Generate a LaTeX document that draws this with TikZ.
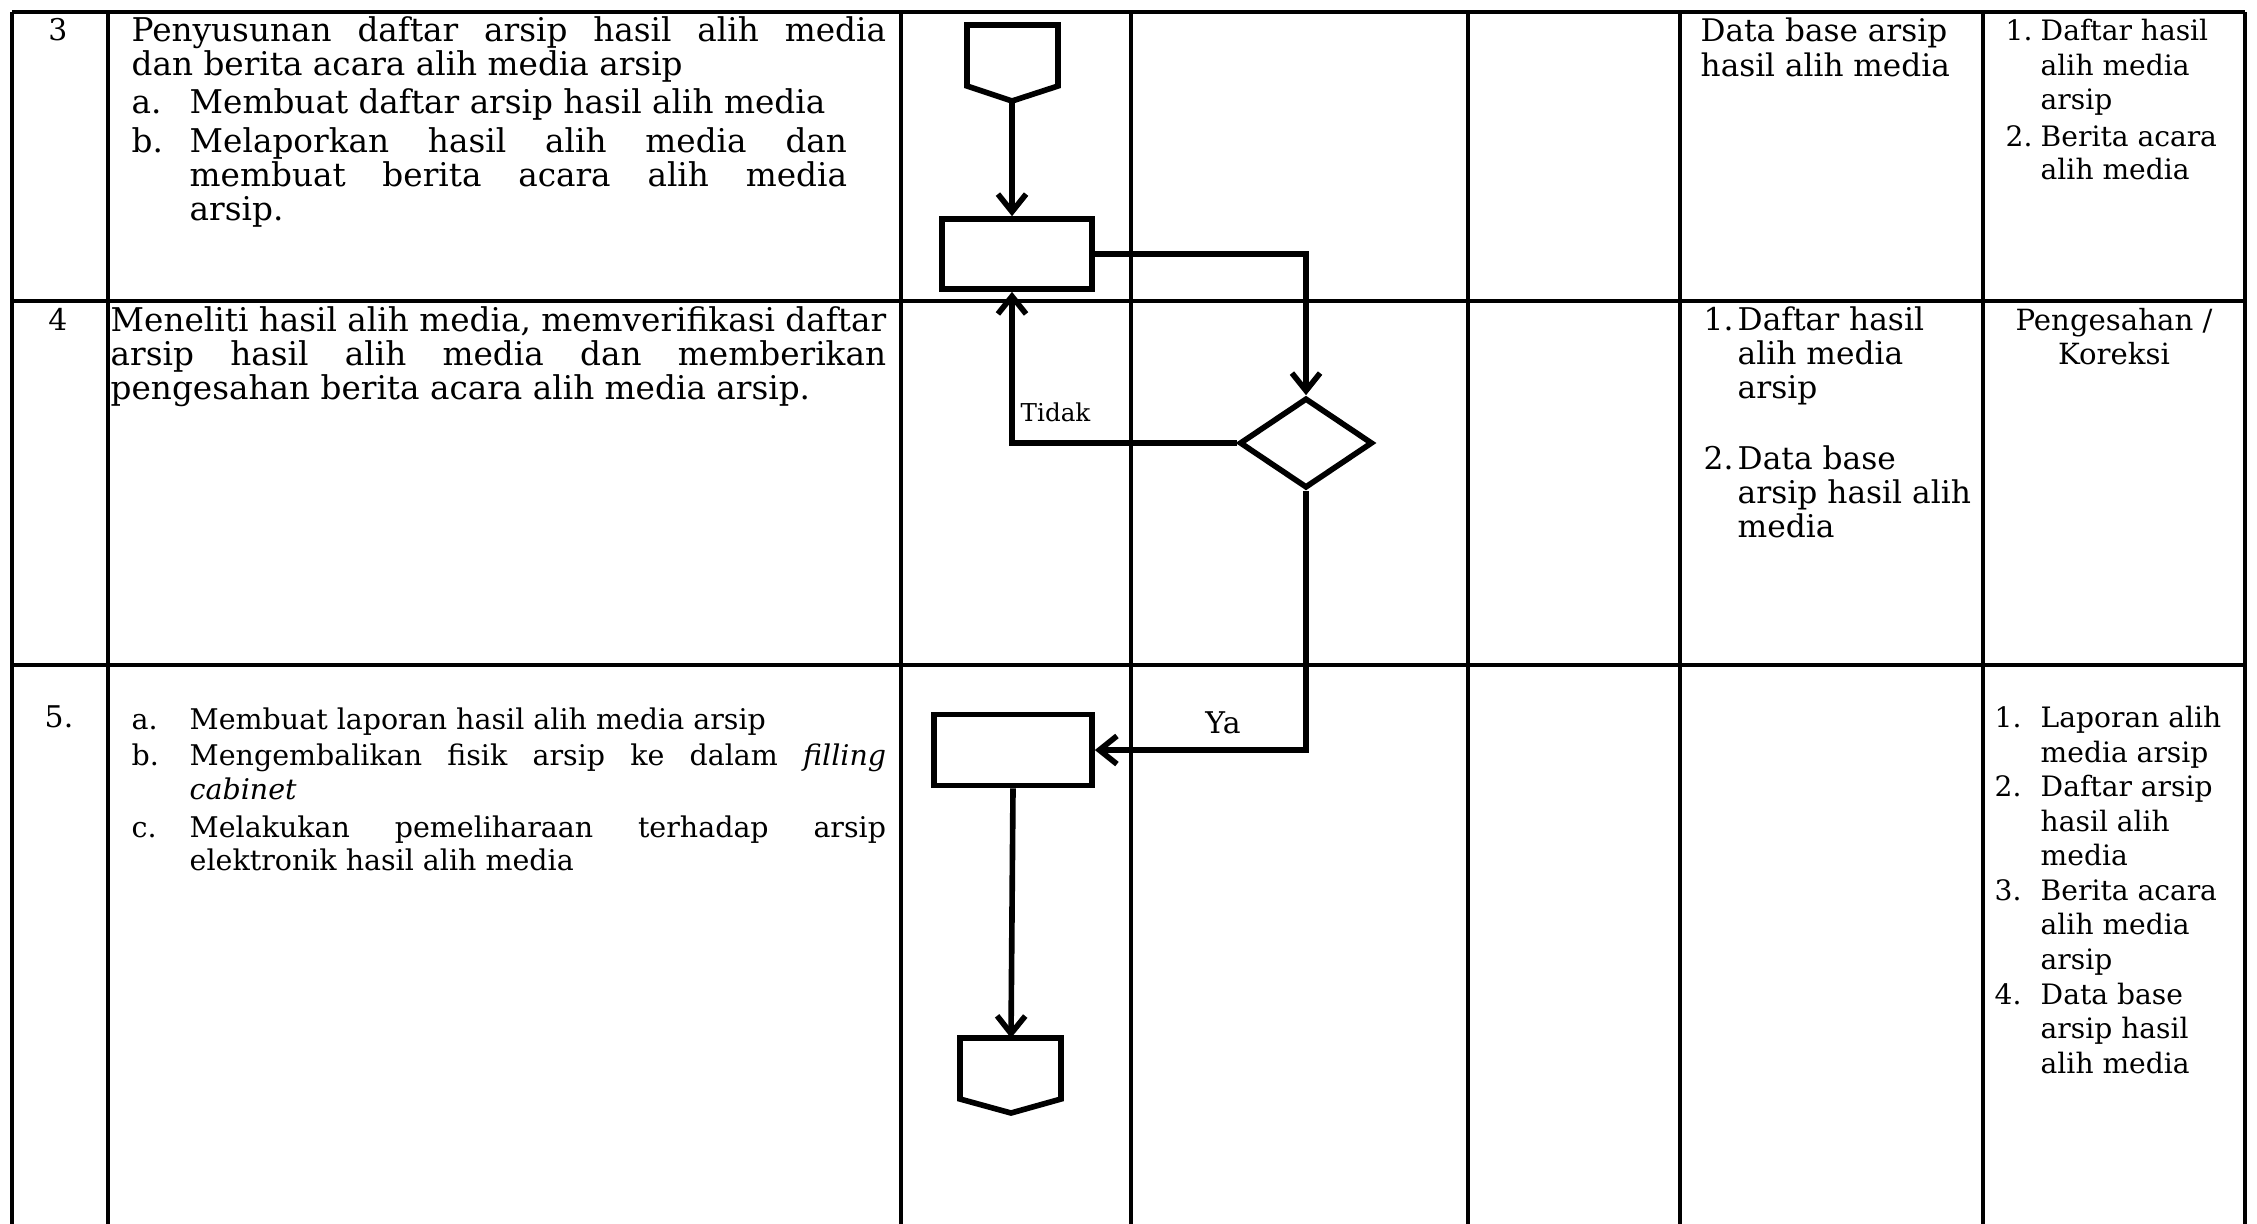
\documentclass[tikz,border=0pt]{standalone}
\usepackage{fontspec}
\setmainfont{DejaVu Serif}
\usetikzlibrary{arrows.meta,shapes.geometric}
\newcommand\J[2]{\makebox[#1][s]{#2}}
\tikzset{
  gridline/.style={line width=0.9pt},
  flow/.style={line width=1.6pt},
  box/.style={draw, rectangle, line width=1.6pt, inner sep=0pt, fill=white},
  dec/.style={draw, diamond, line width=1.6pt, inner sep=0pt, fill=white},
  arr/.style={flow, -{Straight Barb[length=5pt,width=8pt]}},
  txt/.style={anchor=base west, inner sep=0pt, font=\fontsize{#1}{#1}\selectfont},
  txt/.default=8.5,
  ctxt/.style={txt=#1, anchor=base},
  ctxt/.default=8.5,
  small/.style={anchor=base west, inner sep=0pt, font=\fontsize{7}{8}\selectfont},
}
\begin{document}
\begin{tikzpicture}[x=0.01cm,y=-0.01cm]
\useasboundingbox (0,0) rectangle (2257,1223);
\fill[white] (0,0) rectangle (2257,1223);
% table grid
\draw[gridline] (12,12) -- (2245,12);
\draw[gridline] (12,301) -- (2245,301);
\draw[gridline] (12,665) -- (2245,665);
\foreach \gx in {12,108,901,1131,1468,1680,1983,2245}
  \draw[gridline] (\gx,12) -- (\gx,1230);

% row numbers
\node[ctxt] (n3) at (58,40) {3};
\node[ctxt] (n4) at (58,330) {4};
\node[ctxt] (n5) at (59,727) {5.};

% row 3, column 1
\node[txt=9.3] (r3l1) at (131,41) {\J{7.54cm}{Penyusunan daftar arsip hasil alih media}};
\node[txt=9.3] (r3l2) at (131,75) {dan berita acara alih media arsip};
\node[txt=9.3] (r3a) at (131,113) {a.};
\node[txt=9.3] (r3l3) at (189,113) {Membuat daftar arsip hasil alih media};
\node[txt=9.3] (r3b) at (131,152) {b.};
\node[txt=9.3] (r3l4) at (189,152) {\J{6.57cm}{Melaporkan hasil alih media dan}};
\node[txt=9.3] (r3l5) at (189,186) {\J{6.57cm}{membuat berita acara alih media}};
\node[txt=9.3] (r3l6) at (189,220) {arsip.};

% row 4, column 1
\node[txt=9.3] (r4l1) at (110,331) {\J{7.75cm}{Meneliti hasil alih media, memverifikasi daftar}};
\node[txt=9.3] (r4l2) at (110,365) {\J{7.75cm}{arsip hasil alih media dan memberikan}};
\node[txt=9.3] (r4l3) at (110,399) {pengesahan berita acara alih media arsip.};

% row 5, column 1
\node[txt=8.1] (r5a) at (131,729) {a.};
\node[txt=8.1] (r5l1) at (189,729) {Membuat laporan hasil alih media arsip};
\node[txt=8.1] (r5b) at (131,765) {b.};
\node[txt=8.1] (r5l2) at (189,765) {\J{6.96cm}{Mengembalikan fisik arsip ke dalam \textit{filling}}};
\node[txt=8.1] (r5l3) at (189,799) {\textit{cabinet}};
\node[txt=8.1] (r5c) at (131,837) {c.};
\node[txt=8.1] (r5l4) at (189,837) {\J{6.96cm}{Melakukan pemeliharaan terhadap arsip}};
\node[txt=8.1] (r5l5) at (189,870) {elektronik hasil alih media};

% row 3, columns 5 and 6
\node[txt=8.85] (r3d1) at (1700,41) {Data base arsip};
\node[txt=8.85] (r3d2) at (1700,76) {hasil alih media};
\node[txt=8] (r3o1n) at (2005,40) {1.};
\node[txt=8] (r3o1) at (2040,40) {Daftar hasil};
\node[txt=8] (r3o2) at (2040,75) {alih media};
\node[txt=8] (r3o3) at (2040,109) {arsip};
\node[txt=8] (r3o2n) at (2005,146) {2.};
\node[txt=8] (r3o4) at (2040,146) {Berita acara};
\node[txt=8] (r3o5) at (2040,179) {alih media};

% row 4, columns 5 and 6
\node[txt=8.9] (r4d1n) at (1703,330) {1.};
\node[txt=8.9] (r4d1) at (1737,330) {Daftar hasil};
\node[txt=8.9] (r4d2) at (1737,364) {alih media};
\node[txt=8.9] (r4d3) at (1737,398) {arsip};
\node[txt=8.9] (r4d2n) at (1703,469) {2.};
\node[txt=8.9] (r4d4) at (1737,469) {Data base};
\node[txt=8.9] (r4d5) at (1737,503) {arsip hasil alih};
\node[txt=8.9] (r4d6) at (1737,537) {media};
\node[ctxt=8.3] (r4o1) at (2114,330) {Pengesahan /};
\node[ctxt=8.3] (r4o2) at (2114,364) {Koreksi};

% row 5, column 6
\node[txt=8] (r5o1n) at (1994,727) {1.};
\node[txt=8] (r5o1) at (2040,727) {Laporan alih};
\node[txt=8] (r5o2) at (2040,762) {media arsip};
\node[txt=8] (r5o2n) at (1994,796) {2.};
\node[txt=8] (r5o3) at (2040,796) {Daftar arsip};
\node[txt=8] (r5o4) at (2040,831) {hasil alih};
\node[txt=8] (r5o5) at (2040,865) {media};
\node[txt=8] (r5o3n) at (1994,900) {3.};
\node[txt=8] (r5o6) at (2040,900) {Berita acara};
\node[txt=8] (r5o7) at (2040,934) {alih media};
\node[txt=8] (r5o8) at (2040,969) {arsip};
\node[txt=8] (r5o4n) at (1994,1004) {4.};
\node[txt=8] (r5o9) at (2040,1004) {Data base};
\node[txt=8] (r5o10) at (2040,1038) {arsip hasil};
\node[txt=8] (r5o11) at (2040,1073) {alih media};

% flowchart symbols
\draw[flow, fill=white] (967,25) -- (1058,25) -- (1058,86) -- (1012,101) -- (967,86) -- cycle;
\coordinate (c1) at (1012,101);
\node[box, minimum width=1.5cm, minimum height=0.7cm] (r1) at (1017,254) {};
\node[dec, minimum width=1.33cm, minimum height=0.9cm] (d) at (1306,443) {};
\node[box, minimum width=1.58cm, minimum height=0.71cm] (r2) at (1013,750) {};
\draw[flow, fill=white] (960,1038) -- (1061,1038) -- (1061,1099) -- (1011,1113) -- (960,1099) -- cycle;
\coordinate (c2) at (1011,1038);

% connectors
\draw[arr] (c1) -- (c1 |- r1.north);
\draw[arr] (r1.east) -| (d.north);
\draw[arr] (d.west) -| (c1 |- r1.south);
\draw[arr] (d.south) |- (r2.east);
\draw[arr] (r2.south) -- (c2);

% labels
\node[small] (tidak) at (1020,421) {Tidak};
\node[ctxt] (ya) at (1223,733) {Ya};
\end{tikzpicture}
\end{document}
